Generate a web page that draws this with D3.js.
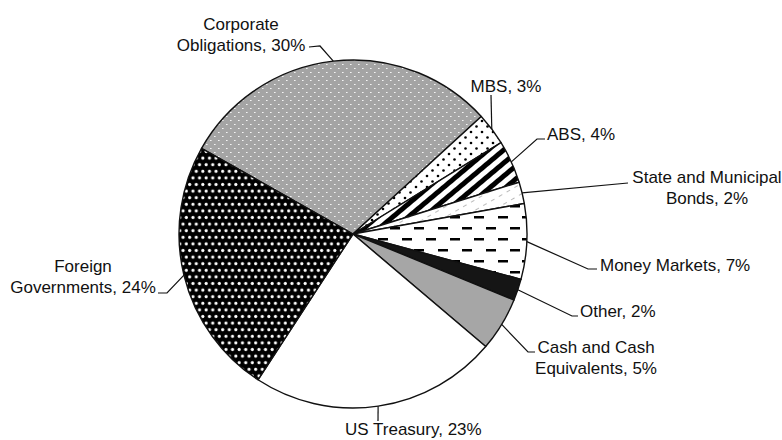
<!DOCTYPE html>
<html>
  <head>
	<meta charset="utf-8">
    <title>Investment portfolio pie</title>
    <script src="https://cdn.jsdelivr.net/npm/d3@7"></script>
  	<style>
		body{ margin:0; background:#fff; }
		svg{ display:block; }
		.lbl{ font-family:"Liberation Sans", Arial, sans-serif; font-size:17px; fill:#111; }
		.leader{ fill:none; stroke:#111; stroke-width:1.2px; }
	</style>
  </head>
  <body>
    <div id="diagram"></div>
    <script>
		// data, clockwise starting at the Foreign / Corporate border
		var categories = ["Corporate Obligations", "MBS", "ABS", "State and Municipal Bonds",
			"Money Markets", "Other", "Cash and Cash Equivalents", "US Treasury", "Foreign Governments"];
		var values = [30, 3, 4, 2, 7, 2, 5, 23, 24];
		var labelLines = [["Corporate", "Obligations, 30%"], ["MBS, 3%"], ["ABS, 4%"],
			["State and Municipal", "Bonds, 2%"], ["Money Markets, 7%"], ["Other, 2%"],
			["Cash and Cash", "Equivalents, 5%"], ["US Treasury, 23%"], ["Foreign", "Governments, 24%"]];

		var width = 782, height = 440;
		var cx = 353, cy = 234, radius = 174;
		var startAngle = -60.5 * Math.PI / 180;

		// label layout: text anchor point, alignment and leader elbow points
		var layout = [
			{x:241, y:30, anchor:"middle", elbow:[[320,46],[309,47]]},
			{x:506, y:92, anchor:"middle", elbow:[[491,95]]},
			{x:547, y:140, anchor:"start", elbow:[[537,139],[545,139]]},
			{x:707, y:183, anchor:"middle", elbow:[[628,183]]},
			{x:600, y:271, anchor:"start", elbow:[[588,269],[597,269]]},
			{x:580, y:317, anchor:"start", elbow:[[572,316],[578,316]]},
			{x:596, y:353, anchor:"middle", elbow:[[528,352],[535,352]]},
			{x:345, y:435, anchor:"start", elbow:[[378,421]]},
			{x:83, y:272, anchor:"middle", elbow:[[167,293],[158,293]]}
		];

		var svg = d3.select("#diagram").append("svg")
					.attr("width", width)
					.attr("height", height);

		//patterns for the black and white fills
		var defs = svg.append("defs");

		var p = defs.append("pattern").attr("id","pCorp").attr("patternUnits","userSpaceOnUse")
			.attr("width",8).attr("height",8);
		p.append("rect").attr("width",8).attr("height",8).attr("fill","#a4a4a4");
		p.append("rect").attr("x",1).attr("y",2).attr("width",1.6).attr("height",1).attr("fill","#f4f4f4");
		p.append("rect").attr("x",5).attr("y",6).attr("width",1.6).attr("height",1).attr("fill","#f4f4f4");

		p = defs.append("pattern").attr("id","pMbs").attr("patternUnits","userSpaceOnUse")
			.attr("width",11).attr("height",11);
		p.append("rect").attr("width",11).attr("height",11).attr("fill","#fff");
		p.append("circle").attr("cx",2.5).attr("cy",2.5).attr("r",1.3).attr("fill","#000");
		p.append("circle").attr("cx",8).attr("cy",8).attr("r",1.3).attr("fill","#000");

		p = defs.append("pattern").attr("id","pAbs").attr("patternUnits","userSpaceOnUse")
			.attr("width",10).attr("height",10).attr("patternTransform","rotate(50)");
		p.append("rect").attr("width",10).attr("height",10).attr("fill","#fff");
		p.append("rect").attr("width",5).attr("height",10).attr("fill","#000");

		p = defs.append("pattern").attr("id","pState").attr("patternUnits","userSpaceOnUse")
			.attr("width",9).attr("height",9).attr("patternTransform","rotate(-30)");
		p.append("rect").attr("width",9).attr("height",9).attr("fill","#fff");
		p.append("rect").attr("x",1).attr("y",4).attr("width",4).attr("height",1).attr("fill","#bbb");

		p = defs.append("pattern").attr("id","pMm").attr("patternUnits","userSpaceOnUse")
			.attr("width",24).attr("height",22);
		p.append("rect").attr("width",24).attr("height",22).attr("fill","#fff");
		p.append("rect").attr("x",1).attr("y",4).attr("width",10).attr("height",2.5).attr("fill","#000");
		p.append("rect").attr("x",13).attr("y",15).attr("width",10).attr("height",2.5).attr("fill","#000");

		p = defs.append("pattern").attr("id","pForeign").attr("patternUnits","userSpaceOnUse")
			.attr("width",6.6).attr("height",13.2);
		p.append("rect").attr("width",6.6).attr("height",13.2).attr("fill","#000");
		p.append("circle").attr("cx",1.65).attr("cy",3.3).attr("r",1.6).attr("fill","#fff");
		p.append("circle").attr("cx",4.95).attr("cy",9.9).attr("r",1.6).attr("fill","#fff");

		var fills = ["url(#pCorp)", "url(#pMbs)", "url(#pAbs)", "url(#pState)", "url(#pMm)",
			"#151515", "#a6a6a6", "#fff", "url(#pForeign)"];

		var pie = d3.pie().sort(null).value(function(d){ return d; })
			.startAngle(startAngle).endAngle(startAngle + 2 * Math.PI);
		var arc = d3.arc().innerRadius(0).outerRadius(radius);
		var arcs = pie(values);

		var g = svg.append("g").attr("transform","translate("+cx+","+cy+")");
		g.selectAll("path.slice").data(arcs).enter().append("path")
			.attr("class","slice")
			.attr("d", arc)
			.attr("fill", function(d,i){ return fills[i]; })
			.attr("stroke","#111")
			.attr("stroke-width",1.4)
			.attr("stroke-linejoin","round");

		//leader lines from the edge of each slice at its mid angle
		var line = d3.line();
		svg.selectAll("path.leader").data(arcs).enter().append("path")
			.attr("class","leader")
			.attr("d", function(d,i){
				var a = (d.startAngle + d.endAngle) / 2;
				var pts = [[cx + radius * Math.sin(a), cy - radius * Math.cos(a)]];
				return line(pts.concat(layout[i].elbow));
			});

		//labels
		labelLines.forEach(function(lines, i){
			var L = layout[i];
			var t = svg.append("text").attr("class","lbl")
				.attr("text-anchor", L.anchor);
			lines.forEach(function(s, k){
				t.append("tspan").attr("x", L.x).attr("y", L.y + k * 20.5).text(s);
			});
		});
	</script>
  </body>
</html>
